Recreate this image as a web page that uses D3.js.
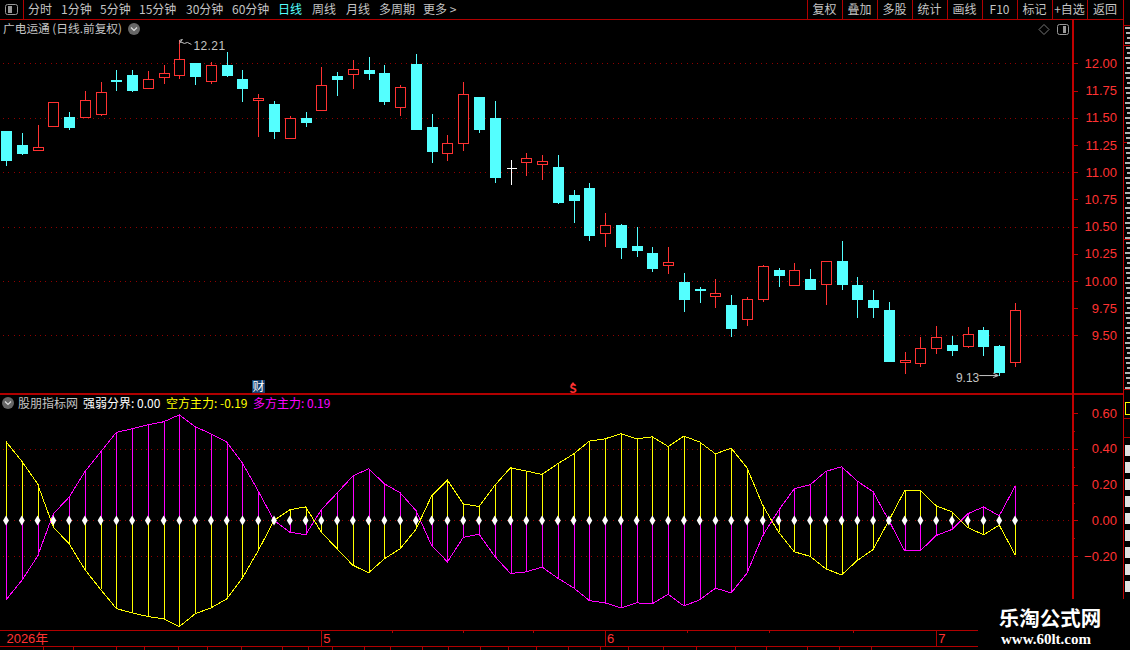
<!DOCTYPE html>
<html>
<head>
<meta charset="utf-8">
<title>广电运通</title>
<script src="https://cdn.jsdelivr.net/npm/d3@7"></script>
<style>
  html, body { margin: 0; padding: 0; background: #000; overflow: hidden; }
  svg { display: block; }
  text { font-family: "Noto Sans CJK SC", "Liberation Sans", sans-serif; font-size: 12px; }
  .num { font-family: "Liberation Sans", sans-serif; font-size: 13px; }
  .crisp { shape-rendering: crispEdges; }
</style>
</head>
<body>
<div id="chart"></div>
<script>
// daily bars
const opens = [11.38,11.25,11.20,11.42,11.51,11.50,11.54,11.85,11.89,11.78,11.87,11.89,12.00,11.83,11.98,11.86,11.66,11.63,11.32,11.50,11.57,11.88,11.90,11.94,11.91,11.60,11.99,11.41,11.18,11.27,11.69,11.50,11.04,11.09,11.07,11.05,10.79,10.85,10.44,10.51,10.32,10.26,10.14,9.99,9.93,9.86,9.78,9.65,9.84,10.10,9.96,10.02,9.97,10.18,9.96,9.82,9.73,9.25,9.24,9.38,9.41,9.40,9.55,9.40,9.25];
const highs = [11.38,11.36,11.43,11.64,11.55,11.75,11.83,11.94,11.94,11.93,11.98,12.21,12.00,12.01,12.10,11.94,11.72,11.65,11.52,11.55,11.97,11.92,12.03,12.06,11.98,11.80,12.09,11.53,11.34,11.83,11.69,11.65,11.11,11.18,11.16,11.16,10.84,10.90,10.62,10.52,10.50,10.31,10.31,10.07,9.94,10.02,9.87,9.85,10.15,10.12,10.16,10.11,10.18,10.37,10.04,9.92,9.81,9.35,9.48,9.59,9.49,9.58,9.58,9.41,9.80];
const lows = [11.06,11.16,11.20,11.41,11.39,11.50,11.52,11.75,11.74,11.76,11.81,11.86,11.80,11.81,11.87,11.64,11.32,11.30,11.32,11.41,11.56,11.70,11.76,11.85,11.62,11.52,11.39,11.08,11.10,11.19,11.36,10.90,10.88,10.96,10.93,10.71,10.53,10.37,10.31,10.20,10.22,10.08,10.06,9.71,9.80,9.75,9.48,9.59,9.81,9.94,9.96,9.93,9.78,9.92,9.66,9.66,9.26,9.14,9.21,9.33,9.31,9.38,9.31,9.13,9.21];
const closes = [11.11,11.18,11.23,11.64,11.42,11.66,11.74,11.84,11.75,11.86,11.91,12.04,11.88,11.98,11.89,11.78,11.68,11.38,11.50,11.46,11.80,11.85,11.95,11.91,11.65,11.78,11.39,11.19,11.27,11.72,11.40,10.96,11.04,11.13,11.10,10.73,10.74,10.42,10.51,10.31,10.28,10.12,10.17,9.83,9.92,9.89,9.57,9.83,10.14,10.05,10.10,9.93,10.18,9.97,9.83,9.76,9.26,9.27,9.38,9.48,9.36,9.51,9.40,9.16,9.73];

// indicator panel
const duoFang = [-.443,-.335,-.20,.037,.13,.272,.382,.492,.512,.534,.551,.59,.523,.484,.438,.32,.164,0,-.065,-.08,.06,.153,.248,.289,.205,.155,.056,-.14,-.231,-.095,-.076,-.20,-.296,-.287,-.26,-.322,-.376,-.447,-.46,-.488,-.46,-.465,-.412,-.477,-.443,-.378,-.404,-.294,-.084,.056,.177,.199,.274,.30,.22,.16,0,-.169,-.169,-.084,-.05,.037,.076,.026,.19];
const kongFang = [.44,.331,.205,-.037,-.13,-.274,-.385,-.492,-.516,-.536,-.549,-.592,-.521,-.488,-.438,-.32,-.168,0,.06,.076,-.065,-.158,-.25,-.292,-.214,-.158,-.05,.138,.225,.093,.078,.196,.294,.276,.257,.317,.371,.443,.456,.484,.456,.467,.413,.471,.438,.372,.404,.294,.084,-.065,-.175,-.20,-.27,-.304,-.223,-.162,0,.166,.166,.082,.048,-.039,-.08,-.026,-.19];

const priceTicks = [12,11.75,11.5,11.25,11,10.75,10.5,10.25,10,9.75,9.5];
const priceGrid = [12,11.5,11,10.5,10,9.5];
const indTicks = [.6,.4,.2,0,-.2];
const indMinor = [.5,.3,.1,-.1];
const indGrid = [.4,.2,0,-.2];

// bar position of the month marks and of the small ticks on the time strip
const months = [{label: "2026年", bar: -0.1}, {label: "5", bar: 20}, {label: "6", bar: 38}, {label: "7", bar: 59}];
const timeTicks = [24.5,29,33.4,43.2,48.4,53.7];

const menuLeft = ["分时","1分钟","5分钟","15分钟","30分钟","60分钟","日线","周线","月线","多周期","更多 >"];
const menuLeftX = [28,61,100,139,186,232,278,312,346,379,423];
const menuRight = ["复权","叠加","多股","统计","画线","F10","标记","+自选","返回"];
const menuRightEdges = [807,842,877,912,947,982,1017,1052,1087,1123];
const tabEdges = [43,73,116,144,178,207,241,282,308,332,364,390,422,448,480,508,536,568,600,628,663,696,735,766,807,839,871];

const W = 1130, H = 650;
const lineRed = "#b00000", textRed = "#ff3232", candleRed = "#ff3232", candleCyan = "#54ffff";
const gridRed = "#900000", gray = "#c4c4c4";

const svg = d3.select("#chart").append("svg").attr("width", W).attr("height", H);
svg.append("rect").attr("width", W).attr("height", H).attr("fill", "#000");

const x = d3.scaleLinear().domain([0, 64]).range([6, 1015]);
const yPrice = d3.scaleLinear().domain([12, 9.5]).range([63.3, 335.3]);
const yInd = d3.scaleLinear().domain([.6, -.2]).range([413, 556.3]);
const px = v => Math.round(v) + .5;

function hline(y, x1, x2, color, w) {
  svg.append("line").attr("class", "crisp").attr("x1", x1).attr("x2", x2).attr("y1", y).attr("y2", y)
    .attr("stroke", color || lineRed).attr("stroke-width", w || 1);
}
function vline(xp, y1, y2, color, w) {
  svg.append("line").attr("class", "crisp").attr("x1", xp).attr("x2", xp).attr("y1", y1).attr("y2", y2)
    .attr("stroke", color || lineRed).attr("stroke-width", w || 1);
}

//grid
svg.selectAll(".gridP").data(priceGrid).join("line").attr("class", "gridP crisp")
  .attr("x1", 3).attr("x2", 1073).attr("y1", d => px(yPrice(d))).attr("y2", d => px(yPrice(d)))
  .attr("stroke", gridRed).attr("stroke-dasharray", "1 4.3");
svg.selectAll(".gridI").data(indGrid).join("line").attr("class", "gridI crisp")
  .attr("x1", 3).attr("x2", 1073).attr("y1", d => px(yInd(d))).attr("y2", d => px(yInd(d)))
  .attr("stroke", gridRed).attr("stroke-dasharray", "1 4.3");

//candles
const bars = d3.range(opens.length);
const barColor = i => closes[i] > opens[i] ? candleRed : closes[i] < opens[i] ? candleCyan : "#fff";
const g = svg.append("g").attr("class", "crisp");
g.selectAll(".wick").data(bars).join("line").attr("class", "wick")
  .attr("x1", i => px(x(i))).attr("x2", i => px(x(i)))
  .attr("y1", i => yPrice(highs[i])).attr("y2", i => yPrice(lows[i]))
  .attr("stroke", barColor);
g.selectAll(".body").data(bars.filter(i => opens[i] !== closes[i])).join("rect").attr("class", "body")
  .attr("x", i => px(x(i)) - 5)
  .attr("width", 10)
  .attr("y", i => Math.round(yPrice(Math.max(opens[i], closes[i]))) + .5)
  .attr("height", i => Math.max(Math.round(yPrice(Math.min(opens[i], closes[i])) - yPrice(Math.max(opens[i], closes[i]))), 1))
  .attr("fill", i => closes[i] > opens[i] ? "#000" : barColor(i))
  .attr("stroke", barColor);
// open equal to close: only a flat line
g.selectAll(".flat").data(bars.filter(i => opens[i] === closes[i])).join("line").attr("class", "flat")
  .attr("x1", i => px(x(i)) - 5).attr("x2", i => px(x(i)) + 5)
  .attr("y1", i => px(yPrice(opens[i]))).attr("y2", i => px(yPrice(opens[i])))
  .attr("stroke", barColor);

//high and low labels
const hiBar = highs.indexOf(d3.max(highs)), loBar = lows.indexOf(d3.min(lows));
svg.append("path").attr("d", `M${x(hiBar)},${yPrice(highs[hiBar])}l3,-1l-3,4M${x(hiBar)},${yPrice(highs[hiBar]) + 1}l5,2l3,-1l4,2`)
  .attr("fill", "none").attr("stroke", gray);
svg.append("text").attr("class", "num").attr("x", x(hiBar) + 14).attr("y", yPrice(highs[hiBar]) + 10)
  .attr("fill", gray).style("font-size", "12px").style("letter-spacing", "0.4px").text(d3.format(".2f")(highs[hiBar]));
svg.append("text").attr("class", "num").attr("x", x(loBar) - 20).attr("y", yPrice(lows[loBar]) + 6)
  .attr("text-anchor", "end").attr("fill", gray).style("font-size", "12px").text(d3.format(".2f")(lows[loBar]));
svg.append("path").attr("d", `M${x(loBar) - 20},${yPrice(lows[loBar])}h19m-5,-2.5l5,2.5l-5,2`)
  .attr("fill", "none").attr("stroke", gray);

//indicator lines and sticks
const indLine = d3.line().x((d, i) => x(i)).y(d => yInd(d));
function series(values, color) {
  svg.append("g").attr("class", "crisp").selectAll("line").data(values).join("line")
    .attr("x1", (d, i) => px(x(i))).attr("x2", (d, i) => px(x(i)))
    .attr("y1", yInd(0)).attr("y2", d => yInd(d)).attr("stroke", color);
  svg.append("path").attr("class", "crisp").attr("d", indLine(values))
    .attr("fill", "none").attr("stroke", color);
}
series(duoFang, "#ff00ff");
series(kongFang, "#ffff00");
svg.selectAll(".zero").data(bars).join("path").attr("class", "zero")
  .attr("transform", i => `translate(${x(i)},${yInd(0)})`)
  .attr("d", d3.symbol(d3.symbolDiamond, 30)).attr("fill", "#fff");

//frame
hline(19.5, 0, 1123);
hline(394, 0, 1123, lineRed, 2);
hline(630.5, 0, 978);
hline(646.5, 0, 978);
vline(23.5, 0, 19);
vline(1073, 19, 394, "#c00000", 1.5);
vline(1073, 394, 599, "#c00000", 2);
vline(1123.5, 0, 599, "#c00000", 1);
menuRightEdges.forEach(e => vline(e + .5, 0, 19));
tabEdges.forEach(e => vline(e + .5, 646, 650));

//axes
function axisStyle(sel) {
  sel.select(".domain").remove();
  sel.selectAll("line").attr("stroke", "#c00000").attr("class", "crisp");
  sel.selectAll("text").attr("class", "num").attr("x", 44).attr("text-anchor", "end").attr("fill", textRed);
}
svg.append("g").attr("transform", "translate(1073,0)")
  .call(d3.axisRight(yPrice).tickValues(priceTicks).tickSize(5).tickFormat(d3.format(".2f"))).call(axisStyle);
svg.append("g").attr("transform", "translate(1073,0)")
  .call(d3.axisRight(yInd).tickValues(indTicks).tickSize(5).tickFormat(d3.format(".2f"))).call(axisStyle);
svg.append("g").attr("transform", "translate(1073,0)")
  .call(d3.axisRight(yInd).tickValues(indMinor).tickSize(2).tickFormat("")).call(axisStyle);

//time strip
months.forEach((m, i) => {
  if (i > 0) vline(px(x(m.bar)), 630, 646);
  svg.append("text").attr("x", x(m.bar) + 2).attr("y", 643).attr("fill", textRed)
    .style("font-family", '"Liberation Sans", "Noto Sans CJK SC", sans-serif').style("font-size", "13px").text(m.label);
});
timeTicks.forEach(t => vline(px(x(t)), 630, 633));

//top menu
svg.selectAll(".menuL").data(menuLeft).join("text").attr("class", "menuL")
  .attr("x", (d, i) => menuLeftX[i]).attr("y", 14).attr("fill", d => d === "日线" ? candleCyan : gray).text(d => d);
svg.selectAll(".menuR").data(menuRight).join("text").attr("class", "menuR")
  .attr("x", (d, i) => (menuRightEdges[i] + menuRightEdges[i + 1]) / 2).attr("y", 14)
  .attr("text-anchor", "middle").attr("fill", gray).text(d => d);
svg.append("rect").attr("x", 5.5).attr("y", 4.5).attr("width", 12).attr("height", 10).attr("rx", 2).attr("fill", "none").attr("stroke", "#999");
svg.append("rect").attr("x", 8).attr("y", 6).attr("width", 4).attr("height", 7).attr("fill", "#999");

//title rows
function chevron(cx, cy) {
  svg.append("circle").attr("cx", cx).attr("cy", cy).attr("r", 6).attr("fill", "#666");
  svg.append("path").attr("d", `M${cx - 3},${cy - 1.5}l3,3l3,-3`).attr("fill", "none").attr("stroke", "#ddd").attr("stroke-width", 1.2);
}
svg.append("text").attr("x", 3).attr("y", 33).attr("fill", gray).style("font-size", "11.7px").text("广电运通 (日线.前复权)");
chevron(134, 29);
chevron(8, 403);
svg.append("path").attr("d", "M1044,24.5l5,5l-5,5l-5,-5z").attr("fill", "none").attr("stroke", "#777");
svg.append("rect").attr("x", 1057.5).attr("y", 24.5).attr("width", 11).attr("height", 10).attr("rx", 2).attr("fill", "none").attr("stroke", "#999");
svg.append("rect").attr("x", 1063).attr("y", 26).attr("width", 3).attr("height", 7).attr("fill", "#999");

const legendItems = [
  {text: "股朋指标网", x: 18, color: gray},
  {text: "强弱分界: 0.00", x: 83, color: "#fff"},
  {text: "空方主力: -0.19", x: 166, color: "#ffff00"},
  {text: "多方主力: 0.19", x: 253, color: "#ff00ff"}
];
svg.selectAll(".legend").data(legendItems).join("text").attr("class", "legend")
  .attr("x", d => d.x).attr("y", 408).attr("fill", d => d.color).text(d => d.text);

//event marks above the indicator panel
svg.append("rect").attr("x", 252).attr("y", 380).attr("width", 13).attr("height", 13).attr("fill", "#14406e");
svg.append("text").attr("x", 258.5).attr("y", 391).attr("text-anchor", "middle").attr("fill", "#fff").text("财");
svg.append("path").attr("d", "M573,382l2.5,3h-5z").attr("fill", textRed);
svg.append("text").attr("x", 573).attr("y", 393).attr("text-anchor", "middle").attr("fill", textRed)
  .style("font-size", "12px").style("font-weight", "bold").text("S");

//side column: only slivers of it fit in the window, not readable, so drawn as marks
[25,45,142,239,389,418,437].forEach(y => hline(y + .5, 1123, 1130));
d3.range(27, 388, 5).forEach((y, i) => {
  svg.append("rect").attr("x", 1125 + (i % 3)).attr("y", y).attr("width", 5 - (i % 3)).attr("height", 2).attr("fill", "#b4b4b4");
});
svg.append("rect").attr("class", "crisp").attr("x", 1125.5).attr("y", 402.5).attr("width", 6).attr("height", 12).attr("fill", "none").attr("stroke", "#ffff00");
d3.range(445, 595, 17).forEach(y => {
  svg.append("rect").attr("x", 1125).attr("y", y).attr("width", 5).attr("height", 11).attr("fill", "#e0e0e0");
});

//watermark
svg.append("rect").attr("x", 978).attr("y", 600).attr("width", 152).attr("height", 50).attr("fill", "#000");
svg.append("text").attr("x", 1050).attr("y", 626).attr("text-anchor", "middle").attr("fill", "#fff")
  .style("font-size", "20.5px").style("font-weight", "bold").text("乐淘公式网");
svg.append("text").attr("x", 1046).attr("y", 644).attr("text-anchor", "middle").attr("fill", "#fff")
  .style("font-family", '"Liberation Serif", serif').style("font-size", "15px").style("font-weight", "bold").text("www.60lt.com");
</script>
</body>
</html>
